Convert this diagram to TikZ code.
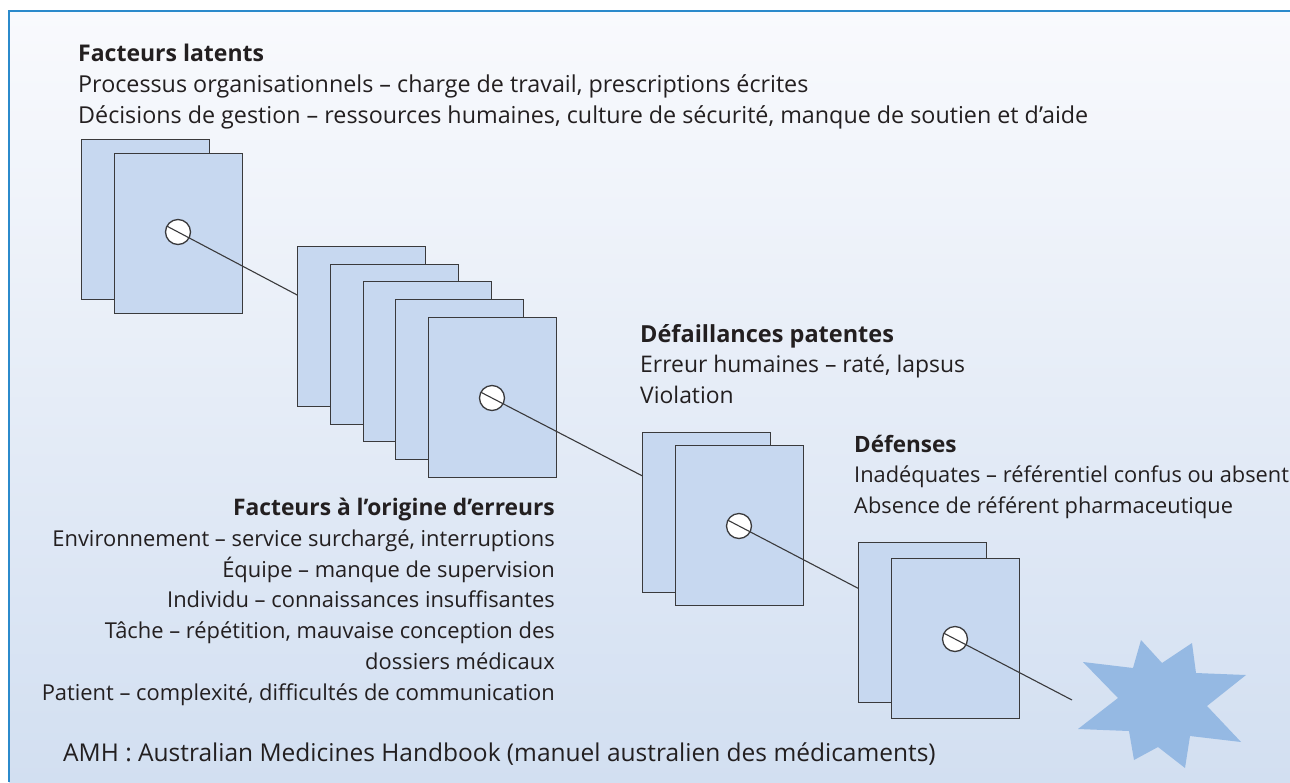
\documentclass[tikz,border=0pt]{standalone}
\usepackage{fontspec}
\setmainfont{Open Sans}
\usetikzlibrary{calc}
\definecolor{frameblue}{RGB}{43, 138, 203}
\definecolor{bgtop}{RGB}{249, 250, 253}
\definecolor{bgbottom}{RGB}{210, 223, 241}
\definecolor{sheetfill}{RGB}{199, 216, 240}
\definecolor{sheetline}{RGB}{58, 58, 60}
\definecolor{burst}{RGB}{149, 185, 227}
\definecolor{inktext}{RGB}{35, 31, 32}
\newcommand{\txtsize}[1]{\fontsize{#1}{30.7}\selectfont}

\begin{document}
\begin{tikzpicture}[
  x=1pt, y=-1pt,
  sheet/.style={rectangle, draw=sheetline, fill=sheetfill, line width=1.3pt,
                minimum width=128pt, minimum height=160pt, inner sep=0pt,
                anchor=north west},
  hole/.style={circle, draw=sheetline, fill=white, line width=1.3pt,
               minimum size=25pt, inner sep=0pt},
  link/.style={draw=sheetline, line width=1.1pt},
  head/.style={anchor=base west, inner sep=0pt, text=inktext, font=\bfseries},
  body/.style={anchor=base west, inner sep=0pt, align=left, text=inktext}
]
  \useasboundingbox (0,0) rectangle (1290,782);
  % background and frame
  \shade[top color=bgtop, bottom color=bgbottom] (9,11) rectangle (1290,782);
  \draw[frameblue, line width=2pt] (9,782) -- (9,11) -- (1290,11);

  % hole positions
  \coordinate (p1) at (178,232);
  \coordinate (p2) at (492,398);
  \coordinate (p3) at (739,526);
  \coordinate (p4) at (955,639);
  \coordinate (impact) at (1072,700);

  % latent factors
  \node[sheet] (l1) at (81,139) {};
  \node[sheet] (l2) at (114,153) {};
  \node[hole] (h1) at (p1) {};
  \draw[link] ($(p1)!-12.5pt!(p2)$) -- (p2);

  % error producing factors
  \foreach \i/\x/\y in {1/297/246, 2/330/264, 3/363/281, 4/395/299, 5/428/317}
    \node[sheet] (e\i) at (\x,\y) {};
  \node[hole] (h2) at (p2) {};
  \draw[link] ($(p2)!-12.5pt!(p3)$) -- (p3);

  % active failures
  \node[sheet] (a1) at (642,432) {};
  \node[sheet] (a2) at (675,445) {};
  \node[hole] (h3) at (p3) {};
  \draw[link] ($(p3)!-12.5pt!(p4)$) -- (p4);

  % defences
  \node[sheet] (d1) at (858,542) {};
  \node[sheet] (d2) at (891,558) {};
  \node[hole] (h4) at (p4) {};
  \draw[link] ($(p4)!-12.5pt!(impact)$) -- (impact);

  % adverse event
  \fill[burst] (1141,640) -- (1162,663) -- (1192,643) -- (1196,673)
    -- (1246,675) -- (1207,706) -- (1241,742) -- (1190,736)
    -- (1185,768) -- (1158,747) -- (1134,760) -- (1129,731)
    -- (1078,729) -- (1118,698) -- (1083,662) -- (1133,668) -- cycle;

  % labels (base = last line)
  \node[head, font=\txtsize{23}\bfseries] (latent) at (78,61) {Facteurs latents};
  \node[body, font=\txtsize{23.3}] (latenttxt) at (78,123) {Processus organisationnels – charge de travail, prescriptions écrites\\
    Décisions de gestion – ressources humaines, culture de sécurité, manque de soutien et d’aide};

  \node[head, font=\txtsize{23.5}\bfseries] (active) at (640,342) {Défaillances patentes};
  \node[body, font=\txtsize{22.9}] (activetxt) at (640,403) {Erreur humaines – raté, lapsus\\Violation};

  \node[head, font=\txtsize{22.5}\bfseries] (defence) at (854,452) {Défenses};
  \node[body, font=\txtsize{21.8}] (defencetxt) at (854,513) {Inadéquates – référentiel confus ou absent\\
    Absence de référent pharmaceutique};

  \node[head, anchor=base east, font=\txtsize{22.8}\bfseries] (origin) at (555,515) {Facteurs à l’origine d’erreurs};
  \node[body, anchor=base east, align=right, font=\txtsize{21.9}] (origintxt) at (555,700) {%
    Environnement – service surchargé, interruptions\\
    Équipe – manque de supervision\\
    Individu – connaissances insuffisantes\\
    Tâche – répétition, mauvaise conception des\\
    dossiers médicaux\\
    Patient – complexité, difficultés de communication};

  \node[body, font=\txtsize{24.5}] (amh) at (63,761)
    {AMH : Australian Medicines Handbook (manuel australien des médicaments)};
\end{tikzpicture}
\end{document}
